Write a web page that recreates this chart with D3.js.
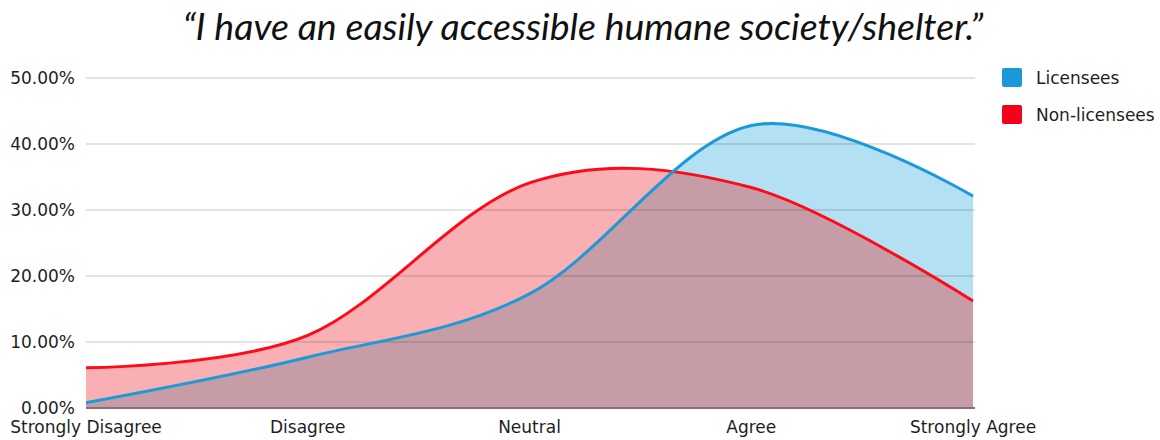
<!DOCTYPE html>
<html>
<head>
<meta charset="utf-8">
<script src="https://cdn.jsdelivr.net/npm/d3@7"></script>
<style>
  body { margin: 0; background: #fff; }
  #chart text { font-family: "DejaVu Sans", sans-serif; fill: #1e1e1e; }
  #chart .title { font-family: Lato, sans-serif; font-style: italic; fill: #111; }
</style>
</head>
<body>
<div id="chart"></div>
<script>
// values (percent)
var categories = ["Strongly Disagree", "Disagree", "Neutral", "Agree", "Strongly Agree"];
var licensees = [0.8, 7.7, 17.3, 42.8, 32.1];
var nonLicensees = [6.1, 11.0, 34.1, 33.4, 16.2];
var yTicks = [0, 10, 20, 30, 40, 50];
var seriesNames = ["Licensees", "Non-licensees"];
var titleText = "\u201CI have an easily accessible humane society/shelter.\u201D";

drawArea();

function drawArea() {

    const width = 1160, height = 440;
    const margin = {top: 78, right: 187, bottom: 32, left: 86};

    const svg = d3.select("#chart")
        .append("svg")
        .attr("width", width)
        .attr("height", height);

    // Create a scale for x-axis
    const xScale = d3.scalePoint()
        .domain(categories)
        .range([margin.left, width - margin.right]);

    // Create a scale for y-axis
    const yScale = d3.scaleLinear()
        .domain([0, 50])
        .range([height - margin.bottom, margin.top]);

    const blueData = categories.map((c, i) => ({cat: c, v: licensees[i]}));
    const redData = categories.map((c, i) => ({cat: c, v: nonLicensees[i]}));

    const curve = d3.curveCardinal.tension(0);

    const area = d3.area()
        .x(d => xScale(d.cat))
        .y0(yScale(0))
        .y1(d => yScale(d.v))
        .curve(curve);

    const line = d3.line()
        .x(d => xScale(d.cat))
        .y(d => yScale(d.v))
        .curve(curve);

    // clip for the overlap of the two areas
    svg.append("clipPath")
        .attr("id", "redClip")
        .append("path")
        .attr("d", area(redData));

    // areas
    svg.append("path")
        .attr("d", area(redData))
        .attr("fill", "#f9b0b4");

    svg.append("path")
        .attr("d", area(blueData))
        .attr("fill", "#b3e0f2");

    svg.append("path")
        .attr("d", area(blueData))
        .attr("clip-path", "url(#redClip)")
        .attr("fill", "#c69ca7");

    // gridlines on top of the fills
    svg.selectAll(".grid")
        .data(yTicks.filter(d => d > 0))
        .join("line")
        .attr("class", "grid")
        .attr("x1", margin.left)
        .attr("x2", width - margin.right + 2)
        .attr("y1", d => yScale(d))
        .attr("y2", d => yScale(d))
        .attr("stroke", "rgba(0,0,0,0.15)")
        .attr("stroke-width", 1.5);

    // baseline
    svg.append("line")
        .attr("x1", margin.left)
        .attr("x2", width - margin.right + 2)
        .attr("y1", yScale(0))
        .attr("y2", yScale(0))
        .attr("stroke", "#8c6c76")
        .attr("stroke-width", 2);

    // lines
    svg.append("path")
        .attr("d", line(redData))
        .attr("fill", "none")
        .attr("stroke", "#ff0a18")
        .attr("stroke-width", 3);

    svg.append("path")
        .attr("d", line(blueData))
        .attr("fill", "none")
        .attr("stroke", "#1b9ad7")
        .attr("stroke-width", 3);

    // y tick labels
    svg.selectAll(".ylab")
        .data(yTicks)
        .join("text")
        .attr("class", "ylab")
        .attr("x", 75)
        .attr("y", d => yScale(d))
        .attr("dy", "0.36em")
        .attr("text-anchor", "end")
        .style("font-size", "17px")
        .text(d => d3.format(".2f")(d) + "%");

    // x labels
    svg.selectAll(".xlab")
        .data(categories)
        .join("text")
        .attr("class", "xlab")
        .attr("x", d => xScale(d))
        .attr("y", 433)
        .attr("text-anchor", "middle")
        .style("font-size", "17px")
        .text(d => d);

    // legend
    const cScale = d3.scaleOrdinal()
        .domain(seriesNames)
        .range(["#1b98d6", "#f5001a"]);

    const legend = svg.selectAll(".legend")
        .data(seriesNames)
        .join("g")
        .attr("class", "legend")
        .attr("transform", (d, i) => `translate(1002, ${68 + i * 37})`);

    legend.append("rect")
        .attr("width", 20)
        .attr("height", 19)
        .attr("rx", 2)
        .attr("fill", d => cScale(d));

    legend.append("text")
        .attr("x", 34)
        .attr("y", 16)
        .style("font-size", "17px")
        .text(d => d);

    // title
    svg.append("text")
        .attr("class", "title")
        .attr("x", 583)
        .attr("y", 40)
        .attr("text-anchor", "middle")
        .style("font-size", "37.5px")
        .text(titleText);
}
</script>
</body>
</html>
